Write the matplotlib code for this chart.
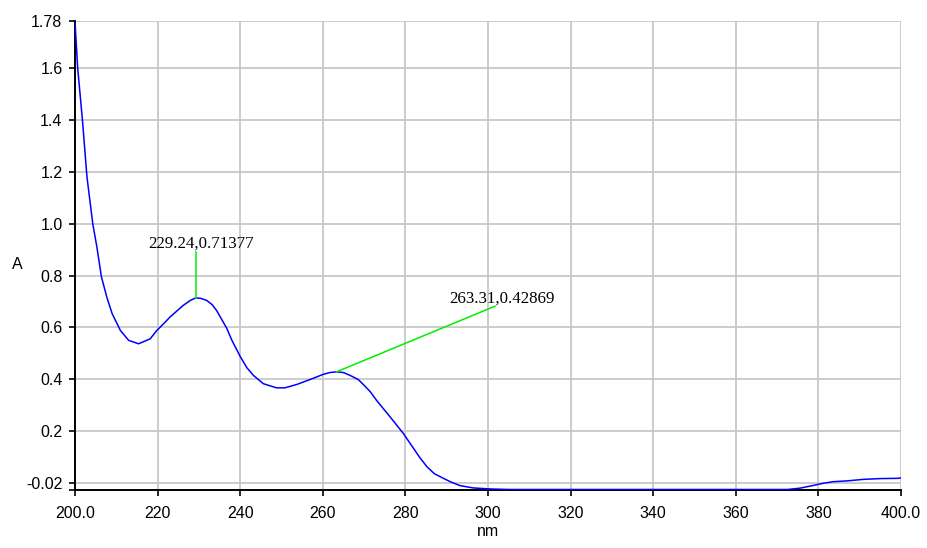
import matplotlib
matplotlib.use("Agg")
import matplotlib.pyplot as plt
from matplotlib.ticker import FixedLocator

# ---- data ----
wavelength = [200.0, 200.65, 201.8, 202.9, 204.3, 205.3, 206.4, 207.7, 209.0, 211.0,
              213.0, 215.4, 218.2, 219.8, 221.5, 223.0, 226.2, 228.0, 229.24, 230.5,
              231.9, 233.2, 234.3, 236.7, 238.0, 240.0, 241.6, 243.2, 245.6, 248.8,
              250.8, 253.7, 256.9, 260.1, 261.7, 263.31, 265.0, 266.6, 268.6, 269.8,
              271.5, 273.0, 276.3, 279.5, 281.9, 283.5, 285.2, 287.0, 289.2, 291.0,
              293.2, 296.4, 300.5, 305.0, 372.5, 375.5, 378.0, 381.2, 383.6, 386.8,
              390.9, 394.9, 399.3, 400.0]
absorbance = [1.78, 1.60, 1.40, 1.18, 1.00, 0.91, 0.795, 0.717, 0.653, 0.588,
              0.550, 0.537, 0.556, 0.588, 0.615, 0.640, 0.685, 0.705, 0.71377, 0.712,
              0.704, 0.688, 0.665, 0.598, 0.550, 0.488, 0.445, 0.415, 0.383, 0.367,
              0.367, 0.380, 0.399, 0.419, 0.426, 0.42869, 0.426, 0.415, 0.399, 0.380,
              0.352, 0.319, 0.255, 0.191, 0.135, 0.098, 0.063, 0.036, 0.018, 0.004,
              -0.010, -0.019, -0.023, -0.025, -0.025, -0.020, -0.012, -0.001, 0.005, 0.008,
              0.014, 0.017, 0.018, 0.020]

peak_x = [229.24, 263.31]
peak_y = [0.71377, 0.42869]
peak_labels = ["229.24,0.71377", "263.31,0.42869"]

xtick_values = [200, 220, 240, 260, 280, 300, 320, 340, 360, 380, 400]
xtick_labels = ["200.0", "220", "240", "260", "280", "300", "320", "340", "360", "380", "400.0"]
ytick_labels = ["-0.02", "0.2", "0.4", "0.6", "0.8", "1.0", "1.2", "1.4", "1.6", "1.78"]

# ---- figure ----
W, H = 927, 548
fig = plt.figure(figsize=(W / 100, H / 100), dpi=100)
ax = fig.add_axes([75 / W, 1 - 490 / H, (901 - 75) / W, (490 - 20.7) / H])

ymin, ymax = -0.027, 1.783
ytick_pos = [0.0, 0.2, 0.4, 0.6, 0.8, 1.0, 1.2, 1.4, 1.6, 1.78]

ax.set_xlim(200, 400)
ax.set_ylim(ymin, ymax)

ax.plot(wavelength, absorbance, color="#0000ff", lw=1.1, zorder=3, clip_on=True)

# annotations
green = "#00ee00"
text_pos = [(230.6, 0.9065), (303.5, 0.697)]
line_end = [(229.24, 0.892), (301.7, 0.682)]
for px, py, lab, tp, le in zip(peak_x, peak_y, peak_labels, text_pos, line_end):
    ax.plot([px, le[0]], [py, le[1]], color=green, lw=1.1, zorder=4)
    ax.text(tp[0], tp[1], lab, ha="center", va="baseline",
            family="Liberation Serif", fontsize=12.2, color="black", zorder=5)

# ticks & grid
ax.xaxis.set_major_locator(FixedLocator(xtick_values))
ax.set_xticklabels(xtick_labels)
ax.yaxis.set_major_locator(FixedLocator(ytick_pos))
ax.set_yticklabels(ytick_labels)
ax.yaxis.set_minor_locator(FixedLocator([ymin]))
ax.tick_params(axis="y", which="minor", length=4, width=1.2, color="black", direction="out")

ax.grid(True, which="major", color="#c8c8c8", lw=1.3, zorder=0)
ax.set_axisbelow(True)

for lab in ax.get_xticklabels() + ax.get_yticklabels():
    lab.set_family("Liberation Sans")
    lab.set_fontsize(11.5)
ax.tick_params(axis="x", which="major", length=4.5, width=1.2, direction="out", pad=7)
ax.tick_params(axis="y", which="major", length=4.5, width=1.2, direction="out", pad=4.5)

for s in ["top", "right"]:
    ax.spines[s].set_visible(False)
for s in ["left", "bottom"]:
    ax.spines[s].set_linewidth(1.4)
    ax.spines[s].set_color("black")

fig.text(488 / W, 1 - 532 / H, "nm", ha="center", va="center",
         family="Liberation Sans", fontsize=11.5)
fig.text(17 / W, 1 - 265 / H, "A", ha="center", va="center",
         family="Liberation Sans", fontsize=11.5)

fig.savefig("out.png", dpi=100)
